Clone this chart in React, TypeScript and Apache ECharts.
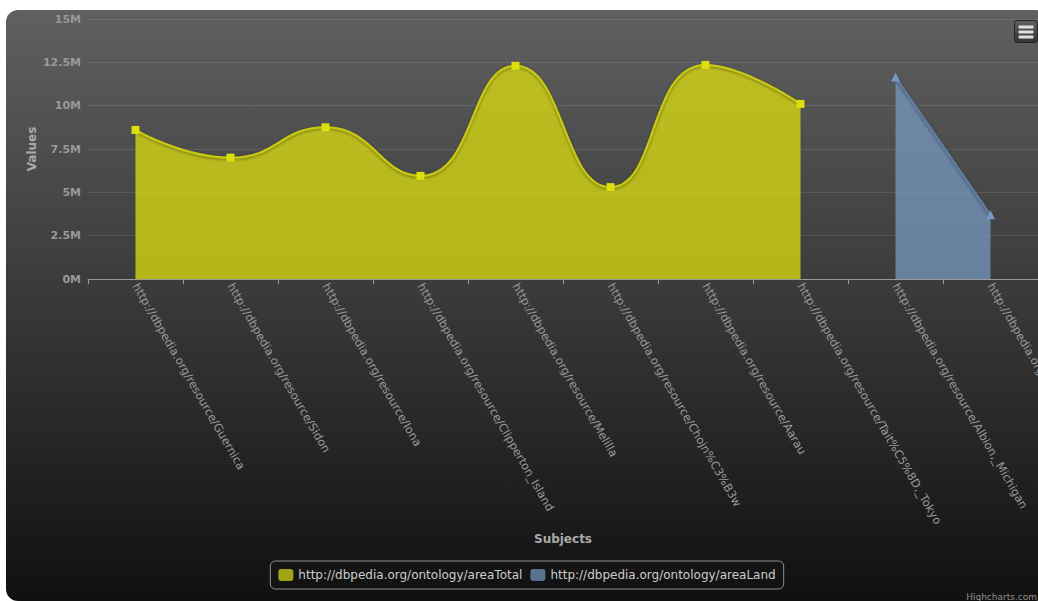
import React, { useEffect, useRef } from "react";
import * as echarts from "echarts";

const categories: string[] = [
  "http://dbpedia.org/resource/Guernica",
  "http://dbpedia.org/resource/Sidon",
  "http://dbpedia.org/resource/Iona",
  "http://dbpedia.org/resource/Clipperton_Island",
  "http://dbpedia.org/resource/Melilla",
  "http://dbpedia.org/resource/Chojn%C3%B3w",
  "http://dbpedia.org/resource/Aarau",
  "http://dbpedia.org/resource/Tait%C5%8D,_Tokyo",
  "http://dbpedia.org/resource/Albion,_Michigan",
  "http://dbpedia.org/resource/Hudson,_Ohio",
];

const areaTotal: (number | null)[] = [
  8600000, 7000000, 8750000, 5950000, 12300000, 5300000, 12350000, 10100000, null, null,
];

const areaLand: (number | null)[] = [
  null, null, null, null, null, null, null, null, 11650000, 3700000,
];

const seriesNames: string[] = [
  "http://dbpedia.org/ontology/areaTotal",
  "http://dbpedia.org/ontology/areaLand",
];

const yTicks = { min: 0, max: 15000000, interval: 2500000 };

const FONT = "'DejaVu Sans', sans-serif";

export default function App() {
  const ref = useRef<HTMLDivElement>(null);

  useEffect(() => {
    if (!ref.current) return;
    const chart = echarts.init(ref.current, null, { renderer: "svg" });
    chart.setOption({
      animation: false,
      backgroundColor: "transparent",
      textStyle: { fontFamily: FONT },
      grid: {
        left: 82,
        right: 10,
        top: 9,
        bottom: 322,
        containLabel: false,
        outerBoundsMode: "none",
      },
      xAxis: {
        type: "category",
        data: categories,
        boundaryGap: true,
        axisLine: { show: true, lineStyle: { color: "#999", width: 1 } },
        axisTick: { show: true, length: 5, lineStyle: { color: "#999" } },
        axisLabel: {
          rotate: -60,
          interval: 0,
          color: "#999",
          fontSize: 11.5,
          fontFamily: FONT,
          margin: 5,
        },
        name: "Subjects",
        nameLocation: "middle",
        nameGap: 254,
        nameMoveOverlap: false,
        nameTextStyle: { color: "#AAA", fontWeight: "bold", fontSize: 12, fontFamily: FONT },
        splitLine: { show: false },
      },
      yAxis: {
        type: "value",
        min: yTicks.min,
        max: yTicks.max,
        interval: yTicks.interval,
        axisLine: { show: false },
        axisTick: { show: false },
        axisLabel: {
          formatter: (v: number) => v / 1000000 + "M",
          color: "#999",
          fontWeight: "bold",
          fontSize: 11,
          fontFamily: FONT,
          margin: 7,
        },
        splitLine: { show: true, lineStyle: { color: "rgba(255,255,255,0.1)", width: 1 } },
        name: "Values",
        nameLocation: "middle",
        nameRotate: 90,
        nameGap: 50,
        nameMoveOverlap: false,
        nameTextStyle: { color: "#AAA", fontWeight: "bold", fontSize: 12, fontFamily: FONT },
      },
      legend: {
        left: "center",
        top: 551,
        orient: "horizontal",
        borderColor: "#909090",
        borderWidth: 1,
        borderRadius: 5,
        padding: [8, 8, 8, 8],
        itemWidth: 15,
        itemHeight: 12,
        itemGap: 8,
        textStyle: { color: "#CCC", fontSize: 12, fontFamily: FONT },
        data: [
          { name: seriesNames[0], icon: "roundRect", itemStyle: { color: "#a2a418" } },
          { name: seriesNames[1], icon: "roundRect", itemStyle: { color: "#5a728d" } },
        ],
      },
      series: [
        {
          name: seriesNames[0],
          type: "line",
          data: areaTotal,
          smooth: true,
          connectNulls: false,
          symbol: "rect",
          symbolSize: 8,
          showAllSymbol: true,
          itemStyle: { color: "#DDDF0D" },
          lineStyle: {
            color: "#c9cb10",
            width: 2,
            shadowColor: "rgba(0,0,0,0.45)",
            shadowBlur: 3,
            shadowOffsetY: 1,
          },
          areaStyle: { color: "#DDDF0D", opacity: 0.75 },
        },
        {
          name: seriesNames[1],
          type: "line",
          data: areaLand,
          smooth: false,
          connectNulls: false,
          symbol: "triangle",
          symbolSize: 9,
          showAllSymbol: true,
          itemStyle: { color: "#7798BF" },
          lineStyle: {
            color: "#5f7d9f",
            width: 2,
            shadowColor: "rgba(0,0,0,0.45)",
            shadowBlur: 3,
            shadowOffsetY: 1,
          },
          areaStyle: { color: "#7798BF", opacity: 0.75 },
        },
      ],
      graphic: [
        {
          type: "group",
          right: 10,
          top: 10,
          children: [
            {
              type: "rect",
              shape: { x: 0, y: 0, width: 23, height: 22, r: 3 },
              style: {
                fill: new echarts.graphic.LinearGradient(0, 0, 0, 1, [
                  { offset: 0, color: "#606060" },
                  { offset: 1, color: "#333" },
                ]),
                stroke: "#222",
                lineWidth: 1,
              },
            },
            { type: "rect", shape: { x: 4, y: 5, width: 15, height: 3, r: 1 }, style: { fill: "#E0E0E0" } },
            { type: "rect", shape: { x: 4, y: 10, width: 15, height: 3, r: 1 }, style: { fill: "#E0E0E0" } },
            { type: "rect", shape: { x: 4, y: 15, width: 15, height: 3, r: 1 }, style: { fill: "#E0E0E0" } },
          ],
        },
        {
          type: "text",
          right: 11,
          bottom: 0,
          style: { text: "Highcharts.com", fill: "#909090", font: "9px " + FONT },
        },
      ],
    });
    return () => chart.dispose();
  }, []);

  return (
    <div
      style={{
        position: "fixed",
        left: 0,
        top: 0,
        width: 1038,
        height: 601,
        overflow: "hidden",
        background: "#fff",
      }}
    >
      <div
        ref={ref}
        style={{
          position: "absolute",
          left: 6,
          top: 10,
          width: 1042,
          height: 591,
          borderRadius: 12,
          background: "linear-gradient(to bottom, rgb(96,96,96), rgb(16,16,16))",
        }}
      />
    </div>
  );
}
